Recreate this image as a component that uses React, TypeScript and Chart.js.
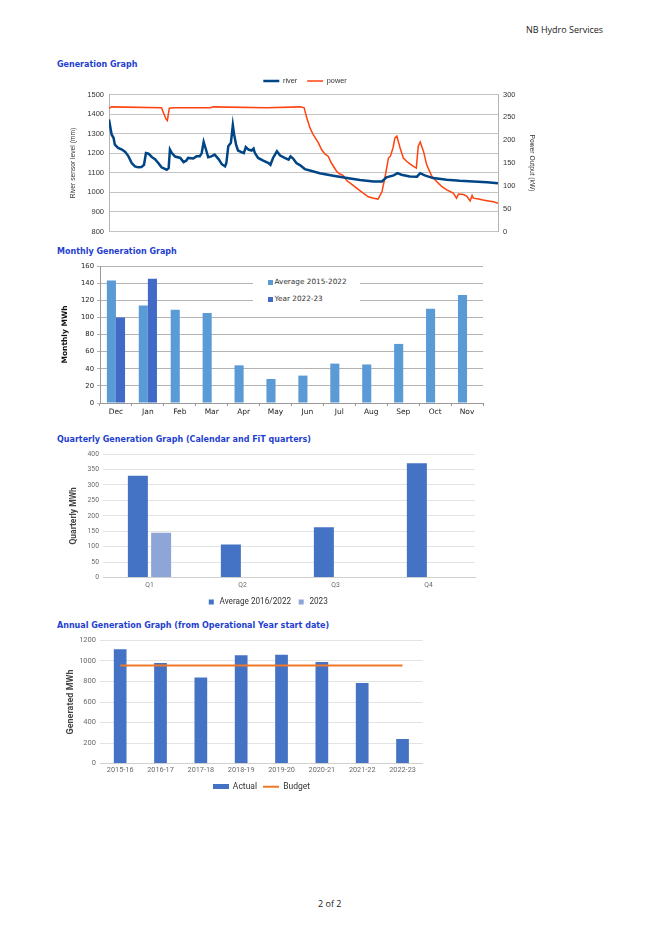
import React, { useEffect, useRef } from "react";
import { Chart, registerables } from "chart.js";
Chart.register(...registerables);

// ---------- Generation graph (time series, x = day) ----------
const riverDays = [0, 0.4, 0.7, 0.9, 1.4, 2.0, 2.5, 3.0, 3.5, 4.0, 4.5, 5.0, 5.4, 5.7, 6.1, 6.6, 7.1, 7.6, 8.1, 8.9, 9.2, 9.4, 9.7, 10.2, 11.0, 11.5, 11.9, 12.2, 13.0, 13.5, 14.0, 14.3, 14.6, 15.0, 15.3, 15.8, 16.3, 16.9, 17.4, 17.9, 18.1, 18.4, 18.8, 19.1, 19.3, 19.6, 19.9, 20.5, 20.8, 21.1, 21.5, 22.0, 22.3, 22.5, 23.0, 23.8, 24.6, 24.9, 25.3, 25.9, 26.4, 27.1, 27.7, 28.0, 28.4, 28.9, 29.5, 30.2, 31.0, 32.5, 34.6, 36.7, 38.7, 40.8, 42.1, 42.8, 43.9, 44.5, 45.1, 46.4, 47.5, 48.0, 48.7, 50.0, 52.1, 54.1, 56.2, 58.3, 60.0];
const riverLevel = [1373, 1296, 1279, 1244, 1227, 1219, 1207, 1184, 1150, 1133, 1128, 1129, 1141, 1201, 1198, 1181, 1170, 1150, 1128, 1116, 1124, 1219, 1201, 1183, 1176, 1155, 1162, 1176, 1173, 1184, 1184, 1201, 1258, 1214, 1180, 1184, 1193, 1170, 1144, 1133, 1150, 1236, 1253, 1344, 1296, 1244, 1214, 1205, 1201, 1232, 1219, 1214, 1224, 1201, 1176, 1162, 1150, 1141, 1176, 1210, 1188, 1176, 1167, 1184, 1173, 1150, 1138, 1119, 1112, 1098, 1085, 1073, 1063, 1056, 1056, 1077, 1087, 1098, 1090, 1081, 1080, 1098, 1087, 1073, 1065, 1059, 1056, 1052, 1047];
const powerDays = [0, 0.4, 8.1, 8.4, 8.8, 9.0, 9.3, 9.9, 15.6, 16.1, 24.3, 29.5, 30.1, 30.5, 31.0, 31.5, 32.3, 32.8, 33.3, 33.8, 34.3, 35.1, 35.6, 36.1, 36.7, 37.2, 38.2, 39.2, 40.0, 40.8, 41.5, 42.1, 42.6, 43.1, 43.4, 43.8, 44.1, 44.4, 44.9, 45.4, 45.9, 46.4, 46.9, 47.4, 47.7, 48.0, 48.5, 49.0, 49.8, 50.5, 51.3, 52.1, 53.1, 53.6, 53.9, 54.7, 55.2, 55.7, 56.0, 56.2, 57.0, 57.7, 58.5, 59.3, 60.0];
const powerOutput = [270, 273, 271, 260, 246, 243, 270, 271, 271, 273, 271, 273, 271, 249, 227, 212, 194, 179, 170, 165, 150, 132, 126, 123, 111, 106, 95, 84, 76, 73, 71, 87, 121, 161, 165, 183, 205, 209, 183, 161, 154, 148, 143, 139, 187, 196, 176, 146, 121, 110, 99, 91, 84, 73, 82, 81, 77, 67, 79, 73, 71, 69, 67, 65, 62];

// ---------- Monthly ----------
const months = ["Dec", "Jan", "Feb", "Mar", "Apr", "May", "Jun", "Jul", "Aug", "Sep", "Oct", "Nov"];
const monthlyAverage = [143, 114, 109, 105, 44, 28, 32, 46, 45, 69, 110, 126];
const monthlyYear = [100, 145, null, null, null, null, null, null, null, null, null, null];

// ---------- Quarterly ----------
const quarters = ["Q1", "Q2", "Q3", "Q4"];
const quarterlyAverage = [330, 107, 163, 370];
const quarterly2023 = [145, null, null, null];

// ---------- Annual ----------
const years = ["2015-16", "2016-17", "2017-18", "2018-19", "2019-20", "2020-21", "2021-22", "2022-23"];
const annualActual = [1115, 980, 840, 1055, 1060, 990, 785, 240];
const annualBudget = [955, 955, 955, 955, 955, 955, 955, 955];

const TITLE_BLUE = "#1f3fd0";
const plain = (v: any) => String(v);

function ChartBox(props: { left: number; top: number; width: number; height: number; build: () => any }) {
  const ref = useRef<HTMLCanvasElement>(null);
  useEffect(() => {
    const chart = new Chart(ref.current as HTMLCanvasElement, props.build());
    return () => chart.destroy();
  }, []);
  return (
    <div style={{ position: "absolute", left: props.left - 8, top: props.top - 8, width: props.width, height: props.height }}>
      <canvas ref={ref} width={props.width} height={props.height} style={{ width: props.width, height: props.height, display: "block" }} />
    </div>
  );
}

function Text(props: { x: number; y: number; children: any; style?: any }) {
  return (
    <div style={{ position: "absolute", left: props.x - 8, top: props.y - 8 - 6, lineHeight: "12px", whiteSpace: "nowrap", ...props.style }}>
      {props.children}
    </div>
  );
}

const titleStyle = { fontFamily: "'DejaVu Sans', sans-serif", fontWeight: "bold", fontSize: "8px", color: TITLE_BLUE };

function buildGeneration() {
  const f = { family: "'Liberation Sans', Arial, sans-serif", size: 7.5 };
  return {
    type: "line",
    data: {
      datasets: [
        { label: "river", data: riverDays.map((d, i) => ({ x: d, y: riverLevel[i] })), borderColor: "#004586", backgroundColor: "#004586", borderWidth: 2.5, pointRadius: 0, yAxisID: "y" },
        { label: "power", data: powerDays.map((d, i) => ({ x: d, y: powerOutput[i] })), borderColor: "#ff420e", backgroundColor: "#ff420e", borderWidth: 1.5, pointRadius: 0, yAxisID: "y1" },
      ],
    },
    options: {
      animation: false,
      responsive: false,
      maintainAspectRatio: false,
      layout: { padding: { top: 1.25, left: 0, right: 0, bottom: 0 } },
      plugins: {
        tooltip: { enabled: false },
        legend: {
          position: "top",
          labels: { usePointStyle: true, pointStyle: "line", pointStyleWidth: 16, boxHeight: 7, padding: 10, color: "#333", font: { family: f.family, size: 7.3 } },
        },
      },
      scales: {
        x: { type: "linear", min: 0, max: 60, ticks: { display: false }, grid: { display: false, drawTicks: false }, border: { display: false }, afterFit: (s: any) => { s.height = 7; } },
        y: {
          position: "left", min: 800, max: 1500,
          ticks: { stepSize: 100, padding: 5, color: "#333", font: f, callback: plain },
          grid: { color: "#c4c4c4", drawTicks: false },
          border: { color: "#b3b3b3" },
          title: { display: true, text: "River sensor level (mm)", color: "#333", font: { family: f.family, size: 6.7 }, padding: { top: 9, bottom: 0 } },
          afterFit: (s: any) => { s.width = 49; },
        },
        y1: {
          position: "right", min: 0, max: 300,
          ticks: { stepSize: 50, padding: 5, color: "#333", font: f, callback: plain },
          grid: { drawOnChartArea: false, drawTicks: false },
          border: { color: "#b3b3b3" },
          title: { display: true, text: "Power Output (kW)", color: "#333", font: { family: f.family, size: 6.7 }, padding: { top: 14, bottom: 0 } },
          afterFit: (s: any) => { s.width = 52; },
        },
      },
    },
  };
}

function buildMonthly() {
  const fam = "'DejaVu Sans', sans-serif";
  return {
    type: "bar",
    data: {
      labels: months,
      datasets: [
        { label: "Average 2015-2022", data: monthlyAverage, backgroundColor: "#5b9bd5", categoryPercentage: 0.57, barPercentage: 1.0 },
        { label: "Year 2022-23", data: monthlyYear, backgroundColor: "#4169c8", categoryPercentage: 0.57, barPercentage: 1.0 },
      ],
    },
    options: {
      animation: false,
      responsive: false,
      maintainAspectRatio: false,
      layout: { padding: { top: 8, right: 5, left: 0, bottom: 0 } },
      plugins: { legend: { display: false }, tooltip: { enabled: false } },
      scales: {
        x: {
          ticks: { color: "#222", font: { family: fam, size: 7.5 }, padding: 2, maxRotation: 0 },
          grid: { drawOnChartArea: false, drawTicks: true, tickLength: 3, color: "#999", offset: true },
          border: { color: "#999" },
          afterFit: (s: any) => { s.height = 20; },
        },
        y: {
          min: 0, max: 160,
          ticks: { stepSize: 20, color: "#222", font: { family: fam, size: 6.8 }, padding: 3, callback: plain },
          grid: { color: "#b3b3b3", tickLength: 3 },
          border: { color: "#999" },
          title: { display: true, text: "Monthly MWh", color: "#111", font: { family: fam, size: 7.5, weight: "bold" }, padding: { top: 2.5, bottom: 0 } },
          afterFit: (s: any) => { s.width = 42; },
        },
      },
    },
  };
}

function buildQuarterly() {
  const fam = "Roboto, sans-serif";
  return {
    type: "bar",
    data: {
      labels: quarters,
      datasets: [
        { label: "Average 2016/2022", data: quarterlyAverage, backgroundColor: "#4472c4", categoryPercentage: 0.5, barPercentage: 0.86 },
        { label: "2023", data: quarterly2023, backgroundColor: "#8ea5d8", categoryPercentage: 0.5, barPercentage: 0.86 },
      ],
    },
    options: {
      animation: false,
      responsive: false,
      maintainAspectRatio: false,
      layout: { padding: { top: 6, right: 5, left: 0, bottom: 0 } },
      plugins: {
        tooltip: { enabled: false },
        legend: {
          position: "bottom",
          labels: { usePointStyle: true, pointStyle: "rect", boxHeight: 5, padding: 6, color: "#333", font: { family: fam, size: 8.2 } },
        },
      },
      scales: {
        x: {
          ticks: { color: "#6b6b6b", font: { family: fam, size: 6.8 }, padding: 4 },
          grid: { display: false, drawTicks: false },
          border: { color: "#d0d0d0" },
          afterFit: (s: any) => { s.height = 14.2; },
        },
        y: {
          min: 0, max: 400,
          ticks: { stepSize: 50, color: "#6b6b6b", font: { family: fam, size: 6.8 }, padding: 4, callback: plain },
          grid: { color: "#e3e3e3", drawTicks: false },
          border: { display: false },
          title: { display: true, text: "Quarterly MWh", color: "#444", font: { family: fam, size: 8.5, weight: "bold" }, padding: { top: 9, bottom: 0 } },
          afterFit: (s: any) => { s.width = 43; },
        },
      },
    },
  };
}

function buildAnnual() {
  const fam = "Roboto, sans-serif";
  const actualIcon = document.createElement("canvas");
  actualIcon.width = 16;
  actualIcon.height = 5;
  const c = actualIcon.getContext("2d") as CanvasRenderingContext2D;
  c.fillStyle = "#4472c4";
  c.fillRect(0, 0, 16, 5);
  return {
    type: "bar",
    data: {
      labels: years,
      datasets: [
        { type: "bar", label: "Actual", data: annualActual, backgroundColor: "#4472c4", categoryPercentage: 0.8, barPercentage: 0.394, order: 2 },
        { type: "line", label: "Budget", data: annualBudget, borderColor: "#f07828", backgroundColor: "#f07828", borderWidth: 2, pointRadius: 0, order: 1 },
      ],
    },
    options: {
      animation: false,
      responsive: false,
      maintainAspectRatio: false,
      layout: { padding: { top: 7, right: 5.3, left: 0, bottom: 0 } },
      plugins: {
        tooltip: { enabled: false },
        legend: {
          position: "bottom",
          fullSize: false,
          labels: {
            usePointStyle: true, pointStyleWidth: 16, boxHeight: 8, padding: 6, color: "#333", font: { family: fam, size: 8.5 },
            generateLabels: (chart: any) => {
              const items = Chart.defaults.plugins.legend.labels.generateLabels(chart);
              const actual = items.find((it: any) => it.text === "Actual");
              const budget = items.find((it: any) => it.text === "Budget");
              actual.pointStyle = actualIcon;
              budget.pointStyle = "line";
              budget.lineWidth = 2;
              budget.strokeStyle = "#f07828";
              return [actual, budget];
            },
          },
        },
      },
      scales: {
        x: {
          ticks: { color: "#6b6b6b", font: { family: fam, size: 7.3 }, padding: 2 },
          grid: { display: false, drawTicks: false },
          border: { color: "#d0d0d0" },
          afterFit: (s: any) => { s.height = 13; },
        },
        y: {
          min: 0, max: 1200,
          ticks: { stepSize: 200, color: "#6b6b6b", font: { family: fam, size: 7.5 }, padding: 4, callback: plain },
          grid: { color: "#e3e3e3", drawTicks: false },
          border: { display: false },
          title: { display: true, text: "Generated MWh", color: "#444", font: { family: fam, size: 9, weight: "bold" }, padding: { top: 7.5, bottom: 0 } },
          afterFit: (s: any) => { s.width = 42; },
        },
      },
    },
  };
}

function MonthlyLegend() {
  const fam = "'DejaVu Sans', sans-serif";
  const row = (y: number, color: string, label: string) => (
    <div style={{ position: "absolute", left: 0, top: y - 6, height: 12, width: 107 }}>
      <div style={{ position: "absolute", left: 15, top: 4, width: 4.5, height: 4.5, background: color }} />
      <div style={{ position: "absolute", left: 21.5, top: 0, lineHeight: "12px", fontFamily: fam, fontSize: "7.3px", color: "#333", whiteSpace: "nowrap" }}>{label}</div>
    </div>
  );
  return (
    <div style={{ position: "absolute", left: 253 - 8, top: 272 - 8, width: 107, height: 38, background: "#fff" }}>
      {row(10.3, "#5b9bd5", "Average 2015-2022")}
      {row(27, "#4169c8", "Year 2022-23")}
    </div>
  );
}

export default function App() {
  return (
    <div style={{ position: "relative", width: 643, height: 917, background: "#fff" }}>
      <Text x={526} y={30} style={{ fontFamily: "'Open Sans', sans-serif", fontSize: "9px", color: "#222" }}>NB Hydro Services</Text>

      <Text x={57} y={65} style={titleStyle}>Generation Graph</Text>
      <ChartBox left={60} top={66} width={490} height={175} build={buildGeneration} />

      <Text x={57} y={252} style={titleStyle}>Monthly Generation Graph</Text>
      <ChartBox left={58} top={258} width={430} height={165} build={buildMonthly} />
      <MonthlyLegend />

      <Text x={57} y={440} style={titleStyle}>Quarterly Generation Graph (Calendar and FiT quarters)</Text>
      <ChartBox left={60} top={446} width={420} height={170} build={buildQuarterly} />

      <Text x={57} y={626} style={titleStyle}>Annual Generation Graph (from Operational Year start date)</Text>
      <ChartBox left={58} top={632} width={370} height={169} build={buildAnnual} />

      <Text x={318} y={904} style={{ fontFamily: "'Open Sans', sans-serif", fontSize: "9px", color: "#222" }}>2 of 2</Text>
    </div>
  );
}
